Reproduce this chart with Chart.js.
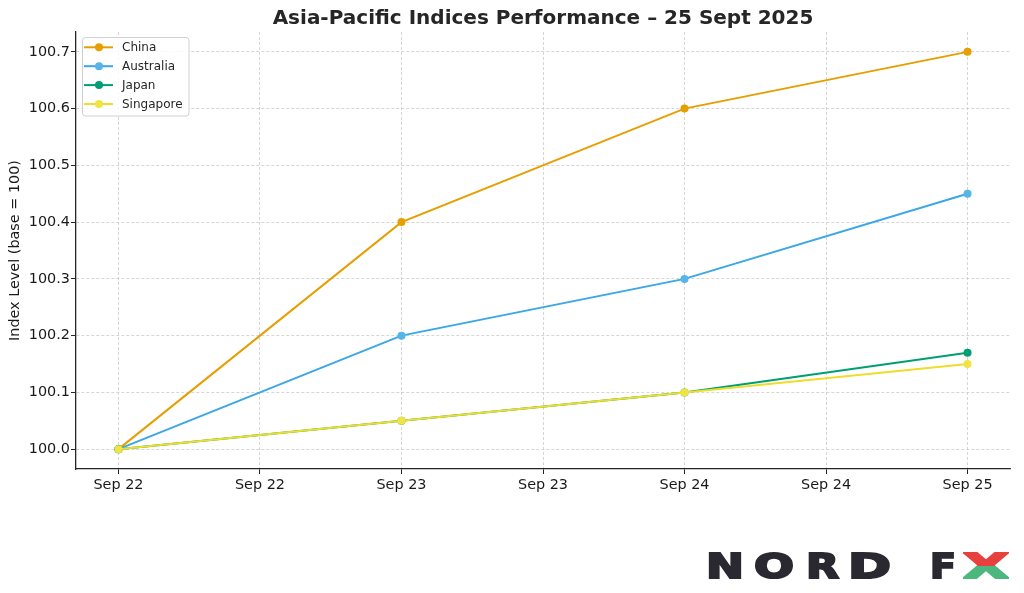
<!DOCTYPE html>
<html>
<head>
<meta charset="utf-8">
<script src="https://cdn.jsdelivr.net/npm/chart.js@4.4.1/dist/chart.umd.min.js"></script>
<style>
html,body{margin:0;padding:0;background:#fff;}
#wrap{position:relative;width:1024px;height:593px;overflow:hidden;}
#chart{position:absolute;left:0;top:0;}
.lg{position:absolute;top:549px;font:bold 34px "DejaVu Sans";line-height:34px;color:#2a2830;-webkit-text-stroke:2px #2a2830;transform-origin:0 0;white-space:nowrap;}
.xr{color:#e8403f;-webkit-text-stroke:2px #e8403f;clip-path:inset(0 0 50% 0);}
.xg{color:#4cb87e;-webkit-text-stroke:2px #4cb87e;clip-path:inset(50% 0 0 0);}
</style>
</head>
<body>
<div id="wrap">
<canvas id="chart" width="1024" height="593"></canvas>
<span class="lg" data-l="706" data-w="38">N</span>
<span class="lg" data-l="754" data-w="40">O</span>
<span class="lg" data-l="806" data-w="33">R</span>
<span class="lg" data-l="848" data-w="43">D</span>
<span class="lg" data-l="930" data-w="26">F</span>
<span class="lg xr" data-l="963" data-w="46">X</span>
<span class="lg xg" data-l="963" data-w="46" aria-hidden="true">X</span>
</div>
<script>
// ---- data ----
const chartTitle = "Asia-Pacific Indices Performance \u2013 25 Sept 2025";
const yAxisTitle = "Index Level (base = 100)";
const categories = ["Sep 22", "Sep 23", "Sep 24", "Sep 25"];
const dayIndex = [0, 1, 2, 3];
const xTickValues = [0, 0.5, 1, 1.5, 2, 2.5, 3];
const xTickLabels = ["Sep 22", "Sep 22", "Sep 23", "Sep 23", "Sep 24", "Sep 24", "Sep 25"];
const yTickValues = [100.0, 100.1, 100.2, 100.3, 100.4, 100.5, 100.6, 100.7];
const yTickLabels = ["100.0", "100.1", "100.2", "100.3", "100.4", "100.5", "100.6", "100.7"];
const seriesNames = ["China", "Australia", "Japan", "Singapore"];
const china = [100.0, 100.4, 100.6, 100.7];
const australia = [100.0, 100.2, 100.3, 100.45];
const japan = [100.0, 100.05, 100.1, 100.17];
const singapore = [100.0, 100.05, 100.1, 100.15];
const seriesColors = ["#E69F00", "#56B4E9", "#009E73", "#F0E442"];
const lineColors = ["#E69F00", "#3BA7E6", "#009E73", "#EEDD2A"];

const seriesValues = [china, australia, japan, singapore];
const FONT = '"DejaVu Sans", sans-serif';

const datasets = seriesNames.map((name, k) => ({
  label: name,
  data: dayIndex.map((x, i) => ({x: x, y: seriesValues[k][i]})),
  borderColor: lineColors[k],
  backgroundColor: seriesColors[k],
  pointBackgroundColor: seriesColors[k],
  pointBorderColor: seriesColors[k],
  pointBorderWidth: 0,
  pointRadius: 4,
  borderWidth: 2,
  tension: 0,
  order: seriesNames.length - k
}));

const overlay = {
  id: 'overlay',
  afterDraw(chart) {
    const ctx = chart.ctx;
    const ca = chart.chartArea;
    ctx.save();
    // title
    ctx.font = 'bold 20px ' + FONT;
    ctx.fillStyle = '#262626';
    ctx.textAlign = 'center';
    ctx.textBaseline = 'alphabetic';
    ctx.fillText(chartTitle, (ca.left + ca.right) / 2, 23.5);
    // legend
    const bx = 82.5, by = 37.5, bw = 106.5, bh = 78.5;
    ctx.beginPath();
    ctx.roundRect(bx, by, bw, bh, 3);
    ctx.fillStyle = 'rgba(255,255,255,0.85)';
    ctx.fill();
    ctx.strokeStyle = '#d0d0d0';
    ctx.lineWidth = 1;
    ctx.stroke();
    ctx.font = '12px ' + FONT;
    ctx.textAlign = 'left';
    ctx.textBaseline = 'middle';
    seriesNames.forEach((name, k) => {
      const yy = 47.3 + k * 18.9;
      ctx.strokeStyle = lineColors[k];
      ctx.lineWidth = 2;
      ctx.beginPath();
      ctx.moveTo(84, yy);
      ctx.lineTo(113, yy);
      ctx.stroke();
      ctx.fillStyle = seriesColors[k];
      ctx.beginPath();
      ctx.arc(99, yy, 4, 0, Math.PI * 2);
      ctx.fill();
      ctx.fillStyle = '#262626';
      ctx.fillText(name, 122, yy + 0.5);
    });
    ctx.restore();
  }
};

const gridOpts = {
  color: '#cccccc',
  lineWidth: 0.8,
  tickLength: 5,
  tickColor: '#262626',
  tickWidth: 1,
  tickBorderDash: []
};
const borderOpts = {display: true, color: '#262626', width: 1.3, dash: [3, 2]};

new Chart(document.getElementById('chart'), {
  type: 'line',
  data: {datasets: datasets},
  options: {
    responsive: false,
    animation: false,
    devicePixelRatio: 1,
    layout: {padding: {top: 32, right: 14, bottom: 0, left: 0}},
    plugins: {legend: {display: false}, title: {display: false}, tooltip: {enabled: false}},
    scales: {
      x: {
        type: 'linear',
        min: -0.15,
        max: 3.15,
        afterBuildTicks: s => { s.ticks = xTickValues.map(v => ({value: v})); },
        afterFit: s => { s.height = 124; },
        ticks: {
          autoSkip: false,
          maxRotation: 0,
          padding: 3,
          color: '#1a1a1a',
          font: {family: FONT, size: 14.4},
          callback: (v, i) => xTickLabels[i]
        },
        grid: gridOpts,
        border: borderOpts
      },
      y: {
        type: 'linear',
        min: 99.965,
        max: 100.735,
        afterBuildTicks: s => { s.ticks = yTickValues.map(v => ({value: v})); },
        afterFit: s => { s.width = 76; },
        ticks: {
          autoSkip: false,
          padding: 1,
          color: '#1a1a1a',
          font: {family: FONT, size: 14.4},
          callback: (v, i) => yTickLabels[i]
        },
        grid: gridOpts,
        border: borderOpts,
        title: {
          display: true,
          text: yAxisTitle,
          color: '#1a1a1a',
          font: {family: FONT, size: 14.4},
          padding: {top: 6.4, bottom: 0}
        }
      }
    }
  },
  plugins: [overlay]
});

// logo letters stretched to their boxes
document.querySelectorAll('.lg').forEach(el => {
  const natural = el.getBoundingClientRect().width;
  const target = parseFloat(el.dataset.w);
  el.style.left = el.dataset.l + 'px';
  el.style.transform = 'scaleX(' + (target / natural) + ')';
});
</script>
</body>
</html>
